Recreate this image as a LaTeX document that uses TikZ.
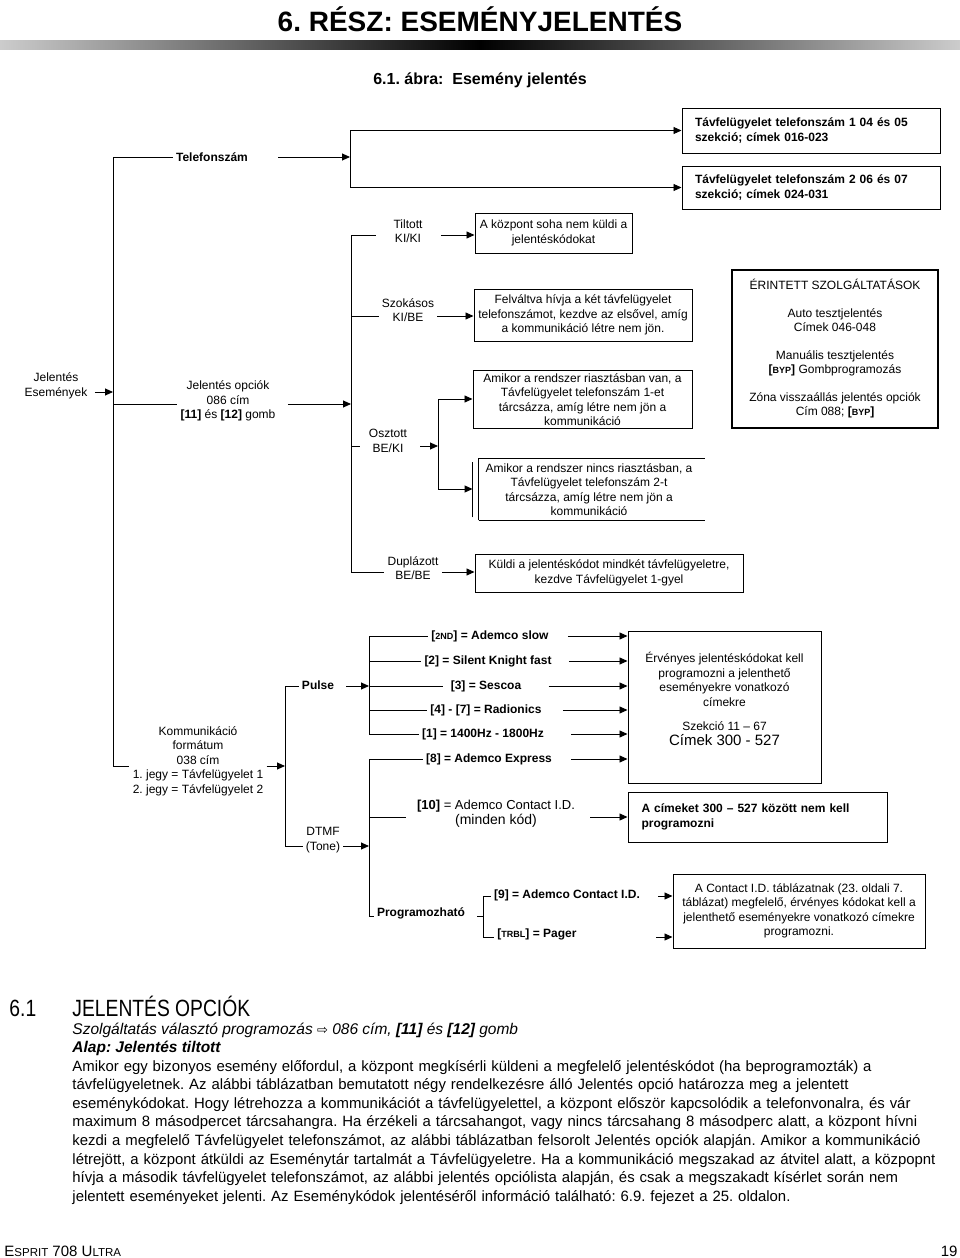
\documentclass[tikz,border=0pt]{standalone}
\usepackage{fontspec}
\setmainfont{Liberation Sans}
\newfontfamily\narrowfont[FakeStretch=0.82]{Liberation Sans}
\newfontfamily\arrowfont{DejaVu Sans}
\usetikzlibrary{arrows.meta}
\newcommand{\minicaps}[2][9]{{\fontsize{#1}{#1}\selectfont #2}}

\begin{document}
\frenchspacing
\begin{tikzpicture}[x=1pt, y=-1pt, line width=0.9pt, >={Triangle[length=8pt,width=7pt]},
  every node/.style={font=\fontsize{12}{14.5}\selectfont, inner sep=3pt},
  lbl/.style={align=center},
  lblb/.style={font=\fontsize{12}{14.5}\selectfont\bfseries},
  box/.style={draw, line width=1pt, align=center}]
\useasboundingbox (0,0) rectangle (960,1258);

% page head
\node (title) at (480,19) {\fontsize{28}{30}\selectfont\bfseries 6. RÉSZ: ESEMÉNYJELENTÉS};
\shade[left color=gray!40, right color=black] (0,40) rectangle (480,49);
\shade[left color=black, right color=gray!40] (480,40) rectangle (960,49);
\node (figcap) at (480,80) {\fontsize{16}{18}\selectfont\bfseries 6.1. ábra:\ \ Esemény jelentés};

% main trunk
\coordinate (ta) at (113,157);
\coordinate (tb) at (113,766);
\draw (ta) -- (tb);

% telefonszam
\node[lblb] (tel) at (212,157) {Telefonszám};
\coordinate (tj) at (350,157);
\draw (ta) -- (tel.west);
\draw[->, shorten <=27pt] (tel.east) -- (tj);
\node[box, lblb, align=left, text width=232pt, minimum width=258pt, minimum height=45pt] (tf1) at (811,130.5)
  {Távfelügyelet telefonszám 1 04 és 05\\szekció; címek 016-023};
\node[box, lblb, align=left, text width=232pt, minimum width=258pt, minimum height=43pt] (tf2) at (811,187.5)
  {Távfelügyelet telefonszám 2 06 és 07\\szekció; címek 024-031};
\draw (tj |- tf1) -- (tj |- tf2);
\draw[->] (tj |- tf1) -- (tf1.west);
\draw[->] (tj |- tf2) -- (tf2.west);

% jelentes opciok
\coordinate (je) at (113,392);
\node[lbl] (ese) at (56,386) {Jelentés\\Események};
\draw[->, shorten <=4pt] (ese.east |- je) -- (je);
\coordinate (jo) at (113,404);
\node[lbl] (opc) at (228,401) {Jelentés opciók\\086 cím\\\textbf{[11]} és \textbf{[12]} gomb};
\draw (jo) -- (opc.west |- jo);
\coordinate (tbt) at (351,235);
\coordinate (tbb) at (351,572);
\draw (tbt) -- (tbb);
\draw[->, shorten <=9pt] (opc.east |- jo) -- (tbt |- jo);

% tiltott
\node[lbl] (tilt) at (408,231) {Tiltott\\KI/KI};
\draw[shorten >=14pt] (tbt) -- (tilt.west |- tbt);
\node[box, minimum width=157pt, minimum height=40pt] (kozp) at (553.5,233) {A központ soha nem küldi a\\jelentéskódokat};
\draw[->, shorten <=15pt] (tilt.east |- tbt) -- (kozp.west |- tbt);

% szokasos
\coordinate (bsz) at (351,316);
\node[lbl] (szok) at (408,310) {Szokásos\\KI/BE};
\draw (bsz) -- (szok.west |- bsz);
\node[box, minimum width=218pt, minimum height=52pt] (felv) at (583,315)
  {Felváltva hívja a két távfelügyelet\\telefonszámot, kezdve az elsővel, amíg\\a kommunikáció létre nem jön.};
\draw[->] (szok.east |- bsz) -- (felv.west |- bsz);

% osztott
\coordinate (bos) at (351,446);
\node[lbl] (oszt) at (388,441) {Osztott\\BE/KI};
\draw[shorten >=6pt] (bos) -- (oszt.west |- bos);
\coordinate (osa) at (438,399);
\coordinate (osb) at (438,489);
\draw (osa) -- (osb);
\draw[->, shorten <=10pt] (oszt.east |- bos) -- (osa |- bos);
\node[box, minimum width=219pt, minimum height=57pt] (riaszt) at (582.5,399.5)
  {Amikor a rendszer riasztásban van, a\\Távfelügyelet telefonszám 1-et\\tárcsázza, amíg létre nem jön a\\kommunikáció};
\draw[->] (osa) -- (riaszt.west |- osa);
\node[lbl, minimum width=232pt, minimum height=61pt] (nincs) at (589,489.5)
  {Amikor a rendszer nincs riasztásban, a\\Távfelügyelet telefonszám 2-t\\tárcsázza, amíg létre nem jön a\\kommunikáció};
\draw ([xshift=6pt]nincs.south west) -- ([xshift=6pt]nincs.north west) -- (nincs.north east);
\draw ([xshift=6pt]nincs.south west) -- (nincs.south east);
\draw ([yshift=3pt]nincs.south west) -- ([yshift=-3pt]nincs.north west);
\draw[->] (osb) -- (nincs.west |- osb);

% duplazott
\node[lbl] (dupl) at (413,568) {Duplázott\\BE/BE};
\draw (tbb) -- (dupl.west |- tbb);
\node[box, minimum width=268pt, minimum height=38pt] (kuldi) at (609,573)
  {Küldi a jelentéskódot mindkét távfelügyeletre,\\kezdve Távfelügyelet 1-gyel};
\draw[->] (dupl.east |- tbb) -- (kuldi.west |- tbb);

% erintett szolgaltatasok
\node[box, line width=2pt, minimum width=206pt, minimum height=158pt, font=\fontsize{12}{14}\selectfont] (erint) at (835,349)
  {ÉRINTETT SZOLGÁLTATÁSOK\\[14pt]Auto tesztjelentés\\Címek 046-048\\[14pt]Manuális tesztjelentés\\
   \textbf{[\minicaps{BYP}]} Gombprogramozás\\[14pt]Zóna visszaállás jelentés opciók\\Cím 088; \textbf{[\minicaps{BYP}]}};

% kommunikacio formatum
\node[lbl] (komm) at (198,761)
  {Kommunikáció\\formátum\\038 cím\\1. jegy = Távfelügyelet 1\\2. jegy = Távfelügyelet 2};
\draw (tb) -- (komm.west |- tb);
\coordinate (ka) at (285,686);
\coordinate (kb) at (285,846);
\draw (ka) -- (kb);
\draw[->] (komm.east |- tb) -- (ka |- tb);

% pulse
\node[lblb] (puls) at (318,685) {Pulse};
\draw (ka) -- (puls.west |- ka);
\coordinate (pa) at (369,636);
\coordinate (pb) at (369,734);
\draw (pa) -- (pb);
\draw[->, shorten <=9pt] (puls.east |- ka) -- (pa |- ka);

\node[box, minimum width=193pt, minimum height=152pt] (erv) at (724.5,707) {};
\node[lbl] (ervtxt) at (724.5,699)
  {Érvényes jelentéskódokat kell\\programozni a jelenthető\\eseményekre vonatkozó\\címekre\\[10pt]Szekció 11 – 67\\
   {\fontsize{15}{16}\selectfont Címek 300 - 527}};

\node[lblb] (ps1) at (490,636) {[\minicaps{2ND}] = Ademco slow};
\node[lblb] (ps2) at (488,661) {[2] = Silent Knight fast};
\node[lblb] (ps3) at (486,686) {[3] = Sescoa};
\node[lblb] (ps4) at (486,710) {[4] - [7] = Radionics};
\node[lblb] (ps5) at (483,734) {[1] = 1400Hz - 1800Hz};
\draw (pa) -- (ps1.west);
\draw (pa |- ps2) -- (ps2.west);
\draw[shorten >=4pt] (pa |- ps3) -- (ps3.west);
\draw (pa |- ps4) -- (ps4.west);
\draw (pb) -- (ps5.west);
\draw[->, shorten <=16pt] (ps1.east) -- (erv.west |- ps1);
\draw[->, shorten <=14pt] (ps2.east) -- (erv.west |- ps2);
\draw[->, shorten <=24pt] (ps3.east) -- (erv.west |- ps3);
\draw[->, shorten <=18pt] (ps4.east) -- (erv.west |- ps4);
\draw[->, shorten <=24pt] (ps5.east) -- (erv.west |- ps5);

% dtmf
\node[lbl] (dtmf) at (323,840) {DTMF\\(Tone)};
\draw (kb) -- (dtmf.west |- kb);
\coordinate (da) at (369,759);
\coordinate (db) at (369,916);
\draw (da) -- (db);
\draw[->] (dtmf.east |- kb) -- (da |- kb);

\node[lblb] (ps6) at (489,759) {[8] = Ademco Express};
\draw (da) -- (ps6.west);
\draw[->, shorten <=16pt] (ps6.east) -- (erv.west |- ps6);

\coordinate (d10) at (369,817);
\node[lbl, font=\fontsize{13}{15}\selectfont] (dt1) at (496,814)
  {\textbf{[10]} = Ademco Contact I.D.\\{\fontsize{14}{15}\selectfont (minden kód)}};
\draw[shorten >=8pt] (d10) -- (dt1.west |- d10);
\node[box, lblb, align=left, text width=232pt, minimum width=259pt, minimum height=50pt] (nem) at (757.5,817)
  {A címeket 300 – 527 között nem kell\\programozni};
\draw[->, shorten <=12pt] (dt1.east |- d10) -- (nem.west |- d10);

% programozhato
\node[lblb] (prog) at (421,913) {Programozható};
\draw (db) -- (prog.west |- db);
\coordinate (ga) at (483,896);
\coordinate (gb) at (483,937);
\draw (ga) -- (gb);
\draw[shorten <=9pt] (prog.east |- db) -- (ga |- db);
\node[lblb] (c9) at (567,895) {[9] = Ademco Contact I.D.};
\node[lblb] (trbl) at (537,934) {[\minicaps{TRBL}] = Pager};
\draw (ga) -- (c9.west |- ga);
\draw (gb) -- (trbl.west |- gb);
\node[box, minimum width=252pt, minimum height=74pt] (cid) at (799,911)
  {A Contact I.D. táblázatnak (23. oldali 7.\\táblázat) megfelelő, érvényes kódokat kell a\\jelenthető eseményekre vonatkozó címekre\\programozni.};
\draw[<-] (cid.west |- ga) -- ++(-15,0);
\draw[<-] (cid.west |- gb) -- ++(-17,0);

% section text
\node[anchor=base west, inner sep=0pt, font=\narrowfont\fontsize{23.5}{25}\selectfont] (secnum) at (9,1016) {6.1};
\node[anchor=base west, inner sep=0pt, font=\narrowfont\fontsize{23.5}{25}\selectfont] (sectitle) at (72,1016) {JELENTÉS OPCIÓK};
\node[anchor=base west, inner sep=0pt, font=\itshape\fontsize{15.5}{18}\selectfont] (menu) at (72,1034)
  {Szolgáltatás választó programozás {\arrowfont\fontsize{13}{14}\selectfont ⇨} 086 cím, \textbf{[11]} és \textbf{[12]} gomb};
\node[anchor=base west, inner sep=0pt, font=\bfseries\itshape\fontsize{15.5}{18}\selectfont] (alap) at (72,1052)
  {Alap: Jelentés tiltott};
\node[anchor=base west, inner sep=0pt, align=left, text width=900pt, font=\fontsize{14.9}{18.6}\selectfont] (body) at (72,1071)
  {Amikor egy bizonyos esemény előfordul, a központ megkísérli küldeni a megfelelő jelentéskódot (ha beprogramozták) a\\
   távfelügyeletnek. Az alábbi táblázatban bemutatott négy rendelkezésre álló Jelentés opció határozza meg a jelentett\\
   eseménykódokat. Hogy létrehozza a kommunikációt a távfelügyelettel, a központ először kapcsolódik a telefonvonalra, és vár\\
   maximum 8 másodpercet tárcsahangra. Ha érzékeli a tárcsahangot, vagy nincs tárcsahang 8 másodperc alatt, a központ hívni\\
   kezdi a megfelelő Távfelügyelet telefonszámot, az alábbi táblázatban felsorolt Jelentés opciók alapján. Amikor a kommunikáció\\
   létrejött, a központ átküldi az Eseménytár tartalmát a Távfelügyeletre. Ha a kommunikáció megszakad az átvitel alatt, a közpopnt\\
   hívja a második távfelügyelet telefonszámot, az alábbi jelentés opciólista alapján, és csak a megszakadt kísérlet során nem\\
   jelentett eseményeket jelenti. Az Eseménykódok jelentéséről információ található: 6.9. fejezet a 25. oldalon.};

% footer
\node[anchor=base west, inner sep=0pt, font=\fontsize{15}{17}\selectfont] (foot) at (4,1256)
  {E\minicaps[11.5]{SPRIT} 708 U\minicaps[11.5]{LTRA}};
\node[anchor=base east, inner sep=0pt, font=\fontsize{15}{17}\selectfont] (page) at (958,1256) {19};
\end{tikzpicture}
\end{document}
